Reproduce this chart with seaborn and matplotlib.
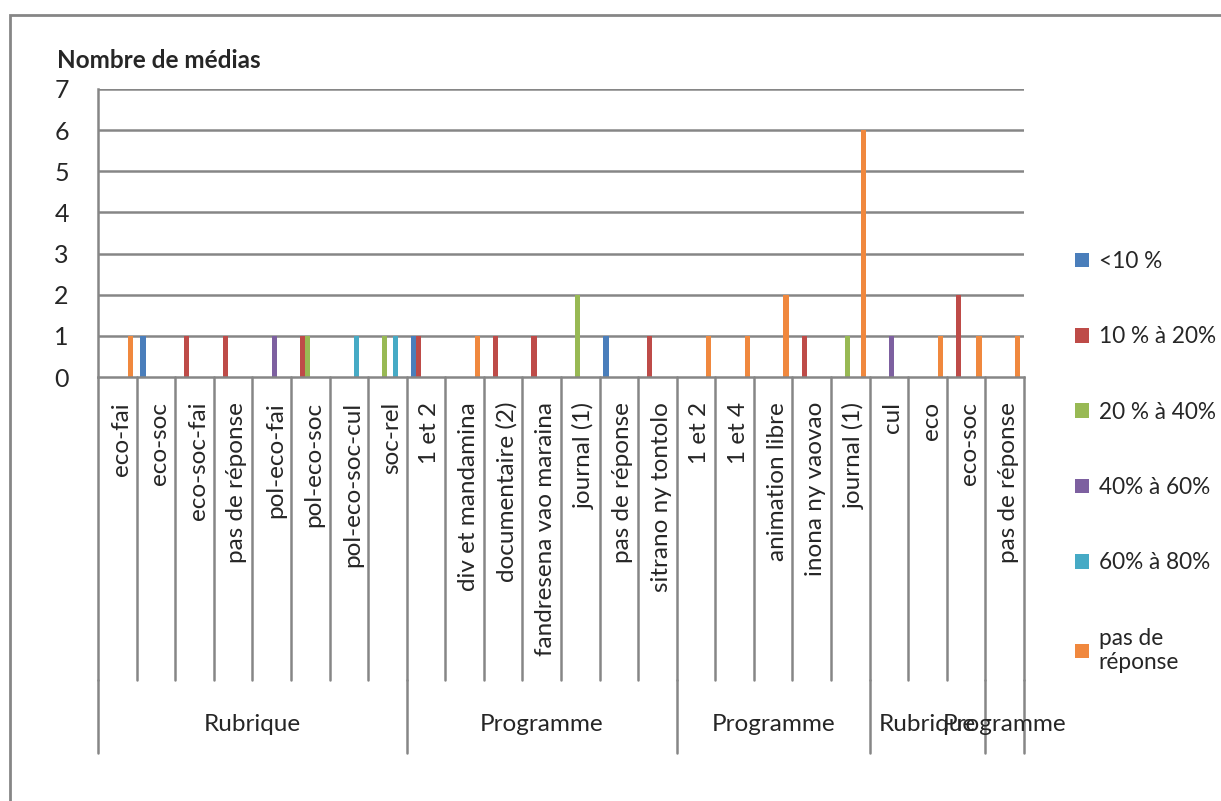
import pandas as pd
import numpy as np
import matplotlib
matplotlib.use('Agg')
import matplotlib.pyplot as plt
import matplotlib.transforms as mtransforms
from matplotlib.patches import Rectangle
import seaborn as sns

# categories, grouped as in the source sheet
groups = ['Rubrique', 'Programme', 'Programme', 'Rubrique', 'Programme']
group_cats = [
    ['eco-fai', 'eco-soc', 'eco-soc-fai', 'pas de réponse', 'pol-eco-fai',
     'pol-eco-soc', 'pol-eco-soc-cul', 'soc-rel'],
    ['1 et 2', 'div et mandamina', 'documentaire (2)', 'fandresena vao maraina',
     'journal (1)', 'pas de réponse', 'sitrano ny tontolo'],
    ['1 et 2', '1 et 4', 'animation libre', 'inona ny vaovao', 'journal (1)'],
    ['cul', 'eco', 'eco-soc'],
    ['pas de réponse'],
]
series = ['<10 %', '10 % à 20%', '20 % à 40%', '40% à 60%', '60% à 80%', 'pas de réponse']
colors = ['#4A7EBB', '#BE4B48', '#98B954', '#7D60A0', '#46AAC5', '#F0883E']

s_lt10 = [0, 1, 0, 0, 0, 0, 0, 0,  1, 0, 0, 0, 0, 1, 0,  0, 0, 0, 0, 0,  0, 0, 0,  0]
s_10_20 = [0, 0, 1, 1, 0, 1, 0, 0,  1, 0, 1, 1, 0, 0, 1,  0, 0, 0, 1, 0,  0, 0, 2,  0]
s_20_40 = [0, 0, 0, 0, 0, 1, 0, 1,  0, 0, 0, 0, 2, 0, 0,  0, 0, 0, 0, 1,  0, 0, 0,  0]
s_40_60 = [0, 0, 0, 0, 1, 0, 0, 0,  0, 0, 0, 0, 0, 0, 0,  0, 0, 0, 0, 0,  1, 0, 0,  0]
s_60_80 = [0, 0, 0, 0, 0, 0, 1, 1,  0, 0, 0, 0, 0, 0, 0,  0, 0, 0, 0, 0,  0, 0, 0,  0]
s_pdr = [1, 0, 0, 0, 0, 0, 0, 0,  0, 1, 0, 0, 0, 0, 0,  1, 1, 2, 0, 6,  0, 1, 1,  1]

cats = [c for g in group_cats for c in g]
n = len(cats)
values = [s_lt10, s_10_20, s_20_40, s_40_60, s_60_80, s_pdr]

df = pd.DataFrame({
    'pos': np.tile(np.arange(n), len(series)),
    'serie': np.repeat(series, n),
    'val': np.concatenate(values),
})

sns.set_style('white')
plt.rcParams['font.family'] = ['Lato', 'DejaVu Sans']
grey = '#868686'
fs = 17.5

fig = plt.figure(figsize=(12.21, 8.01), dpi=100)
W, H = 1221, 801
ax = fig.add_axes([98 / W, 1 - 377 / H, (1024 - 98) / W, (377 - 89) / H])

sns.barplot(data=df, x='pos', y='val', hue='serie', hue_order=series,
            palette=colors, width=0.8, ax=ax, saturation=1, legend=True,
            linewidth=0)

ax.set_xlim(-0.5, n - 0.5)
ax.set_ylim(0, 7)
ax.set_yticks(range(8))
ax.set_yticklabels([str(i) for i in range(8)], fontsize=18)
ax.tick_params(axis='y', length=7, width=1.5, color=grey, pad=14)
ax.set_xticks([])
ax.set_xlabel('')
ax.set_ylabel('')
for y in range(1, 8):
    ax.axhline(y, color=grey, lw=1.8, zorder=0)
for side in ['top', 'right']:
    ax.spines[side].set_visible(False)
for side in ['left', 'bottom']:
    ax.spines[side].set_color(grey)
    ax.spines[side].set_linewidth(1.8)

# multi-level category axis
trans = mtransforms.blended_transform_factory(ax.transData, ax.transAxes)
ah = 377 - 89
tick_bot = -(680 - 377) / ah
grp_bot = -(753 - 377) / ah
grp_lab = -(724 - 377) / ah
lab_top = -(402 - 377) / ah
for k in range(n + 1):
    ax.plot([k - 0.5, k - 0.5], [0, tick_bot], color=grey, lw=1.8,
            transform=trans, clip_on=False)
for k, c in enumerate(cats):
    ax.text(k + 0.1, lab_top, c, rotation=90, ha='center', va='top',
            fontsize=fs, transform=trans)
start = 0
bounds = [0]
for g, gc in zip(groups, group_cats):
    end = start + len(gc)
    ax.text((start + end) / 2 - 0.5, grp_lab, g, ha='center', va='center',
            fontsize=fs, transform=trans)
    start = end
    bounds.append(end)
for b in bounds:
    ax.plot([b - 0.5, b - 0.5], [tick_bot, grp_bot], color=grey, lw=1.8,
            transform=trans, clip_on=False)

fig.text(57 / W, 1 - 60 / H, 'Nombre de médias', fontsize=17.5,
         fontweight='bold', va='center', ha='left')

handles, labels = ax.get_legend_handles_labels()
labels = [l if l != 'pas de réponse' else 'pas de\nréponse' for l in labels]
leg = ax.legend(handles, labels, loc='upper left', bbox_to_anchor=(1075 / W, 1 - 251 / H),
                bbox_transform=fig.transFigure, frameon=False, fontsize=16.3,
                handlelength=0.62, handleheight=0.62, handletextpad=0.42,
                labelspacing=2.4, borderpad=0, borderaxespad=0)

fig.patches.append(Rectangle((10 / W, -0.1), 1.2, 1 - 15 / H + 0.1, transform=fig.transFigure,
                             fill=False, edgecolor=grey, lw=2))

fig.savefig('out.png', dpi=100)
